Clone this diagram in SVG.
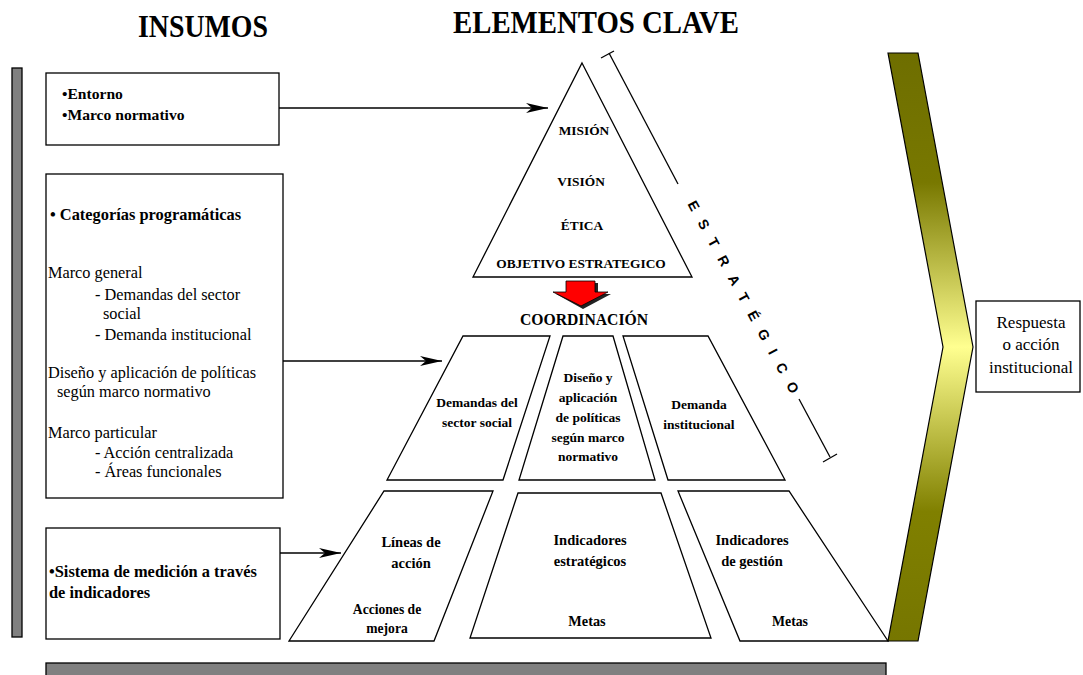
<svg xmlns="http://www.w3.org/2000/svg" width="1083" height="675" viewBox="0 0 1083 675">
<style>
.title{font-family:"Liberation Serif",serif;font-weight:bold;font-size:31px;fill:#000}
.b{font-family:"Liberation Serif",serif;font-weight:bold;fill:#000}
.r{font-family:"Liberation Serif",serif;fill:#000}
.box{fill:#fff;stroke:#000;stroke-width:1.3}
.shape{fill:#fff;stroke:#000;stroke-width:1.3;stroke-linejoin:miter}
.bar{fill:#808080;stroke:#000;stroke-width:1.3}
.line{stroke:#000;stroke-width:1.3;fill:none}
</style>
<defs>
<marker id="ah" markerUnits="userSpaceOnUse" viewBox="0 0 22 10" refX="22" refY="5" markerWidth="22" markerHeight="10" orient="auto">
<path d="M0,0 L22,5 L0,10 L6,5 Z" fill="#000"/>
</marker>
<linearGradient id="gold" gradientUnits="userSpaceOnUse" x1="0" y1="53" x2="0" y2="641">
<stop offset="0" stop-color="#6e6e00"/>
<stop offset="0.22" stop-color="#787800"/>
<stop offset="0.5" stop-color="#ffff90"/>
<stop offset="0.78" stop-color="#808000"/>
<stop offset="1" stop-color="#767600"/>
</linearGradient>
</defs>

<text class="title" x="203" y="37" text-anchor="middle" textLength="130" lengthAdjust="spacingAndGlyphs">INSUMOS</text>
<text class="title" x="596" y="33" text-anchor="middle" textLength="286" lengthAdjust="spacingAndGlyphs">ELEMENTOS CLAVE</text>

<g id="left-bar"><rect class="bar" x="12" y="68" width="10" height="569"/></g>
<g id="bottom-bar"><rect class="bar" x="46" y="663" width="840" height="20"/></g>

<g id="box-entorno">
<rect class="box" x="46" y="73" width="233" height="72"/>
<text class="b" font-size="15.6" x="62" y="99">•Entorno</text>
<text class="b" font-size="15.6" x="62" y="120">•Marco normativo</text>
</g>

<g id="box-categorias">
<rect class="box" x="46" y="174" width="237" height="324"/>
<text class="b" font-size="16.4" x="50" y="220">• Categorías programáticas</text>
<g class="r" font-size="16.3">
<text x="48" y="278">Marco general</text>
<text x="95" y="300">- Demandas del sector</text>
<text x="103" y="319">social</text>
<text x="95" y="340">- Demanda institucional</text>
<text x="48" y="378">Diseño y aplicación de políticas</text>
<text x="57" y="397">según marco normativo</text>
<text x="48" y="438">Marco particular</text>
<text x="95" y="458">- Acción centralizada</text>
<text x="95" y="477">- Áreas funcionales</text>
</g>
</g>

<g id="box-sistema">
<rect class="box" x="46" y="528" width="234" height="111"/>
<text class="b" font-size="16.4" x="49" y="577">•Sistema de medición a través</text>
<text class="b" font-size="16.4" x="49" y="598">de indicadores</text>
</g>

<g id="triangle">
<polygon class="shape" points="582,63 692,277 473,277"/>
<g class="b" font-size="13.4" text-anchor="middle">
<text x="584" y="135">MISIÓN</text>
<text x="581" y="186">VISIÓN</text>
<text x="582" y="230">ÉTICA</text>
<text x="581" y="268">OBJETIVO ESTRATEGICO</text>
</g>
</g>

<g id="red-arrow">
<polygon points="569,283 598,283 598,294 611,294 583,309 556,294 569,294" fill="#222"/>
<polygon points="566,281 595,281 595,292 608,292 581,306 553,292 566,292" fill="#ff0000" stroke="#000" stroke-width="0.8"/>
</g>

<text class="b" font-size="15.7" x="584" y="325" text-anchor="middle">COORDINACIÓN</text>

<g id="mid-demandas">
<polygon class="shape" points="463,336 550,336 503,480 387,480"/>
<text class="b" font-size="13.5" x="477" y="407" text-anchor="middle">Demandas del</text>
<text class="b" font-size="13.5" x="477" y="427" text-anchor="middle">sector social</text>
</g>
<g id="mid-diseno">
<polygon class="shape" points="563,336 613,336 655,480 519,480"/>
<g class="b" font-size="13.5" text-anchor="middle">
<text x="588" y="382">Diseño y</text>
<text x="588" y="402">aplicación</text>
<text x="588" y="422">de políticas</text>
<text x="588" y="442">según marco</text>
<text x="588" y="461">normativo</text>
</g>
</g>
<g id="mid-demanda-inst">
<polygon class="shape" points="623,336 708,336 785,480 668,480"/>
<text class="b" font-size="13.5" x="699" y="409" text-anchor="middle">Demanda</text>
<text class="b" font-size="13.5" x="699" y="429" text-anchor="middle">institucional</text>
</g>

<g id="bot-lineas">
<polygon class="shape" points="384,491 493,491 434,641 289,641"/>
<text class="b" font-size="14.5" x="411" y="547" text-anchor="middle">Líneas de</text>
<text class="b" font-size="14.5" x="411" y="568" text-anchor="middle">acción</text>
<text class="b" font-size="13.6" x="387" y="614" text-anchor="middle">Acciones de</text>
<text class="b" font-size="13.6" x="387" y="633" text-anchor="middle">mejora</text>
</g>
<g id="bot-estrategicos">
<polygon class="shape" points="518,493 661,493 711,638 470,638"/>
<text class="b" font-size="14.5" x="590" y="545" text-anchor="middle">Indicadores</text>
<text class="b" font-size="14.5" x="590" y="566" text-anchor="middle">estratégicos</text>
<text class="b" font-size="14.3" x="587" y="626" text-anchor="middle">Metas</text>
</g>
<g id="bot-gestion">
<polygon class="shape" points="678,491 789,491 888,641 740,641"/>
<text class="b" font-size="14.5" x="752" y="545" text-anchor="middle">Indicadores</text>
<text class="b" font-size="14.5" x="752" y="566" text-anchor="middle">de gestión</text>
<text class="b" font-size="13.8" x="790" y="626" text-anchor="middle">Metas</text>
</g>

<g id="estrategico">
<line class="line" x1="609" y1="53" x2="678" y2="184"/>
<line class="line" x1="601" y1="58" x2="614" y2="51"/>
<line class="line" x1="799" y1="399" x2="830" y2="457"/>
<line class="line" x1="823" y1="462" x2="837" y2="454"/>
<text transform="translate(694,206) rotate(61.45)" x="-5" y="5" font-family="Liberation Sans, sans-serif" font-weight="bold" font-size="14" textLength="217" lengthAdjust="spacing">ESTRATÉGICO</text>
</g>

<g id="chevron">
<polygon points="888,53 918,53 973,347 918,641 888,641 943,347" fill="url(#gold)" stroke="#000" stroke-width="1.2"/>
</g>

<g id="box-respuesta">
<rect class="box" x="976" y="301" width="104" height="91"/>
<g class="r" font-size="17" text-anchor="middle">
<text x="1031" y="328">Respuesta</text>
<text x="1031" y="350">o acción</text>
<text x="1031" y="373">institucional</text>
</g>
</g>

<g id="connectors">
<line class="line" x1="279" y1="108" x2="548" y2="108" marker-end="url(#ah)"/>
<line class="line" x1="283" y1="361" x2="442" y2="361" marker-end="url(#ah)"/>
<line class="line" x1="280" y1="553" x2="341" y2="553" marker-end="url(#ah)"/>
</g>
</svg>
